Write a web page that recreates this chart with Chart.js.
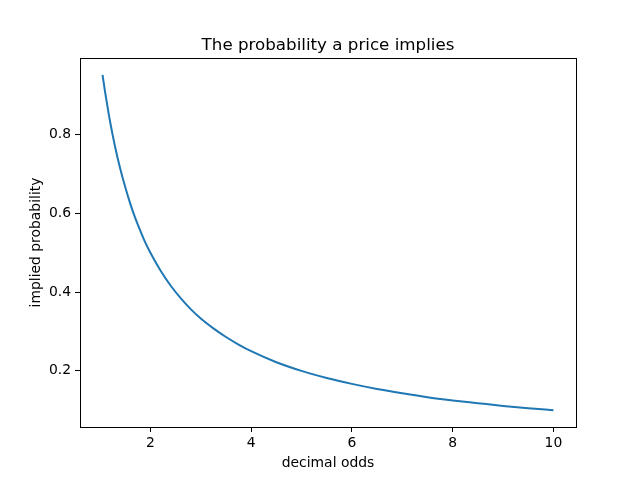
<!DOCTYPE html>
<html>
<head>
<meta charset="utf-8">
<script src="https://cdn.jsdelivr.net/npm/chart.js@4/dist/chart.umd.min.js"></script>
<style>
  html, body { margin: 0; padding: 0; background: #fff; }
  #wrap { width: 640px; height: 480px; }
</style>
</head>
<body>
<div id="wrap"><canvas id="myChart" width="640" height="480"></canvas></div>
<script>
// values
const odds = [1.05, 1.1, 1.15, 1.2, 1.3, 1.4, 1.5, 1.6, 1.7, 1.8, 1.9, 2.0, 2.2, 2.4, 2.6, 2.8, 3.0,
  3.25, 3.5, 3.75, 4, 4.5, 5, 5.5, 6, 6.5, 7, 7.5, 8, 8.5, 9, 9.5, 10];
const impliedProb = [0.952, 0.909, 0.870, 0.833, 0.769, 0.714, 0.667, 0.625, 0.588, 0.556, 0.526, 0.5,
  0.455, 0.417, 0.385, 0.357, 0.333, 0.308, 0.286, 0.267, 0.25, 0.222, 0.2, 0.182, 0.167, 0.154,
  0.143, 0.133, 0.125, 0.118, 0.111, 0.105, 0.1];
const xTicks = [2, 4, 6, 8, 10];
const yTicks = [0.2, 0.4, 0.6, 0.8];

const font = 'DejaVu Sans';

// spines, title and axis labels, placed like matplotlib does
const frame = {
  id: 'frame',
  afterDraw(chart) {
    const { ctx, chartArea: a } = chart;
    ctx.save();
    ctx.strokeStyle = '#000';
    ctx.lineWidth = 1;
    ctx.strokeRect(Math.round(a.left) + 0.5, Math.round(a.top) + 0.5,
      Math.round(a.right - a.left), Math.round(a.bottom - a.top));
    ctx.fillStyle = '#000';
    ctx.textAlign = 'center';
    ctx.textBaseline = 'alphabetic';
    ctx.font = '16.7px "' + font + '"';
    ctx.fillText('The probability a price implies', (a.left + a.right) / 2, 50);
    ctx.font = '13.9px "' + font + '"';
    ctx.textBaseline = 'middle';
    ctx.fillText('decimal odds', (a.left + a.right) / 2, 463);
    ctx.translate(36, (a.top + a.bottom) / 2);
    ctx.rotate(-Math.PI / 2);
    ctx.fillText('implied probability', 0, 0);
    ctx.restore();
  }
};

const ctx = document.getElementById('myChart');
new Chart(ctx, {
  type: 'scatter',
  data: {
    datasets: [{
      data: odds.map((x, i) => ({ x: x, y: impliedProb[i] })),
      showLine: true,
      borderColor: '#1f77b4',
      borderWidth: 2,
      pointRadius: 0,
      cubicInterpolationMode: 'monotone'
    }]
  },
  options: {
    responsive: false,
    animation: false,
    layout: { padding: { left: 0, right: 64, top: 58, bottom: 0 } },
    plugins: { legend: { display: false }, tooltip: { enabled: false } },
    scales: {
      x: {
        type: 'linear',
        min: 0.6025,
        max: 10.4475,
        afterBuildTicks: (s) => { s.ticks = xTicks.map(v => ({ value: v })); },
        afterFit: (s) => { s.height = 53; },
        grid: { drawOnChartArea: false, drawTicks: true, tickLength: 5, color: '#000' },
        border: { display: false },
        ticks: { color: '#000', font: { family: font, size: 13.9 }, padding: 3, maxRotation: 0,
          callback: (v) => String(v) }
      },
      y: {
        type: 'linear',
        min: 0.0574,
        max: 0.995,
        afterBuildTicks: (s) => { s.ticks = yTicks.map(v => ({ value: v })); },
        afterFit: (s) => { s.width = 80; },
        grid: { drawOnChartArea: false, drawTicks: true, tickLength: 5, color: '#000' },
        border: { display: false },
        ticks: { color: '#000', font: { family: font, size: 13.9 }, padding: 4,
          callback: (v) => v.toFixed(1) }
      }
    }
  },
  plugins: [frame]
});
</script>
</body>
</html>
